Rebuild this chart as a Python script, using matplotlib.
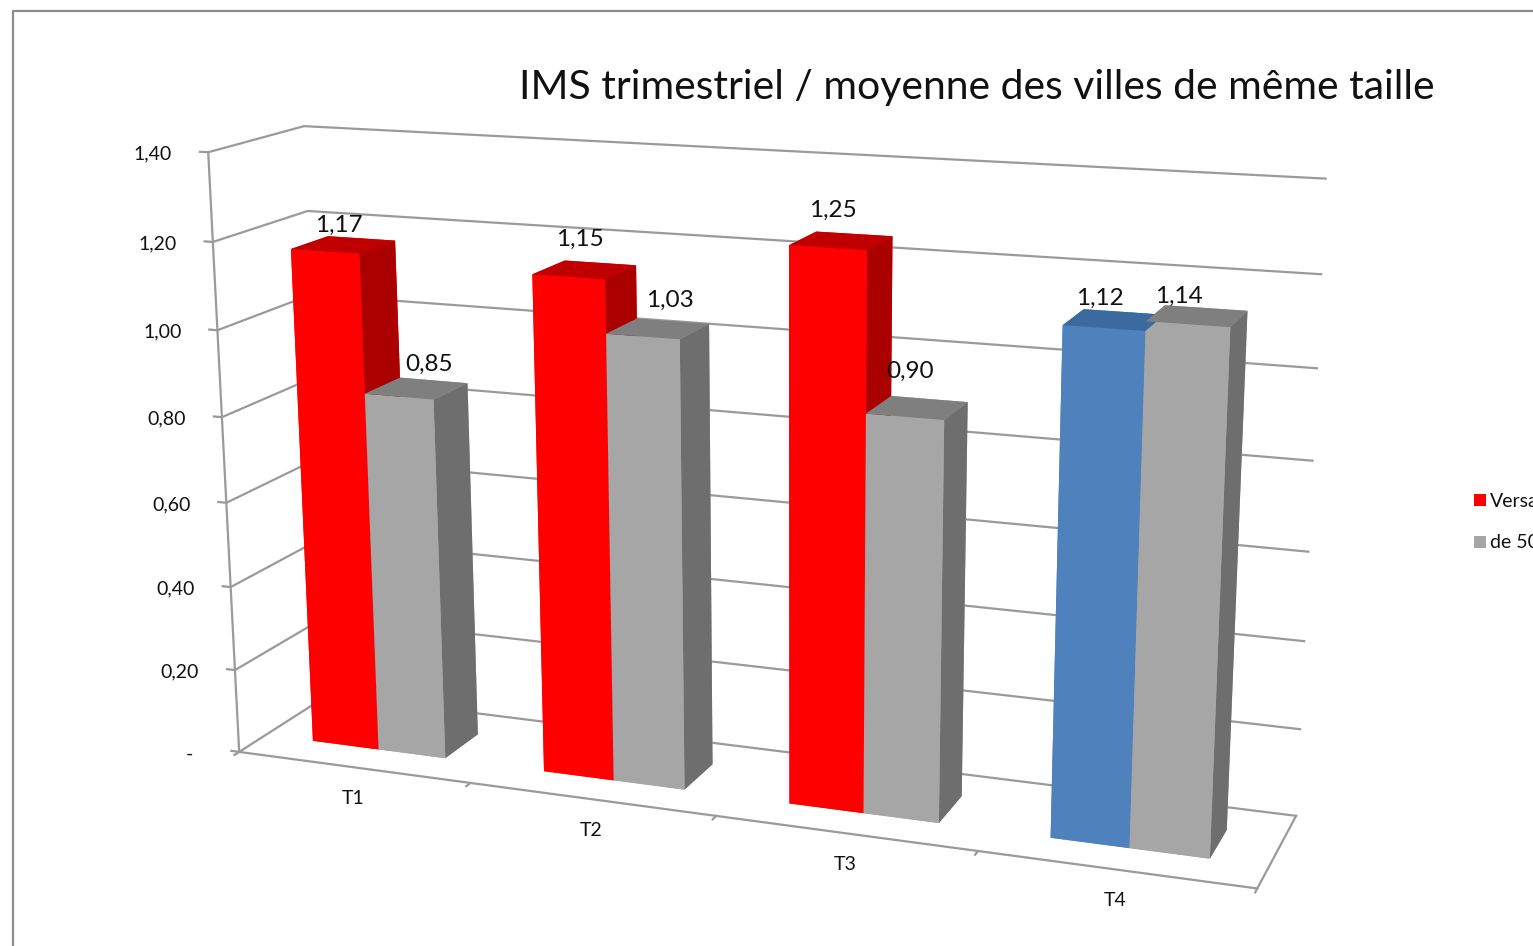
import numpy as np
import matplotlib
matplotlib.use('Agg')
import matplotlib.pyplot as plt
from matplotlib.lines import Line2D
from matplotlib.patches import Rectangle
from mpl_toolkits.mplot3d import proj3d

plt.rcParams['font.family'] = ['Lato', 'DejaVu Sans']

title = 'IMS trimestriel / moyenne des villes de même taille'
categories = ['T1', 'T2', 'T3', 'T4']
versailles = [1.17, 1.15, 1.25, 1.12]
villes = [0.85, 1.03, 0.90, 1.14]
series_names = ['Versailles', 'de 50 000 à 100 000 hab']
yticks = [0, 0.2, 0.4, 0.6, 0.8, 1.0, 1.2, 1.4]
ytick_labels = ['-', '0,20', '0,40', '0,60', '0,80', '1,00', '1,20', '1,40']
label_versailles = ['1,17', '1,15', '1,25', '1,12']
label_villes = ['0,85', '1,03', '0,90', '1,14']

W, H = 1533, 946
GRID = '#9a9a9a'
INK = '#111111'
bar_w = 0.29
bar_start = 0.21
depth0, depth1 = 0.29, 0.69
# shift in pixels of the value labels, Excel puts them a bit anywhere
shift_versailles = [(-23, 13), (-20, 24), (-21, 24), (-24, 14)]
shift_villes = [(-5, 16), (-3, 21), (-19, 28), (-27, 12)]

# face colours in bar3d order: bottom, top, front, back, left, right
RED = ['#ff0000', '#c00000', '#ff0000', '#ff0000', '#ff0000', '#aa0000']
BLUE = ['#4f81bd', '#3b6a9f', '#4f81bd', '#4f81bd', '#4f81bd', '#3b6a9f']
GREY = ['#a6a6a6', '#7f7f7f', '#a6a6a6', '#a6a6a6', '#a6a6a6', '#6e6e6e']

fig = plt.figure(figsize=(W/100, H/100), dpi=100)
# outer frame of the chart, only left and top are in the picture
fig.add_artist(Line2D([13/W, 13/W, 1], [0, 1 - 11/H, 1 - 11/H], color='#8c8c8c', lw=1.6))

# camera values fitted on the corners of the box
ax = fig.add_axes([114.29/W, -171.91/H, 1237.32/W, 1237.32/H], projection='3d')
ax.computed_zorder = False
ax.set_axis_off()
ax.patch.set_alpha(0)
ax.set_proj_type('persp', focal_length=0.4412)
ax.view_init(14.9007, -69.3601, 0.2487)
ax.set_box_aspect((1.6984, 0.3087, 1))

# grid on the walls
for z in yticks:
    ax.plot([-0.035, 0, 0, 4], [0, 0, 1, 1], [z, z, z, z], color=GRID, lw=1.6, zorder=1)
ax.plot([0, 0], [0, 0], [0, 1.4], color=GRID, lw=1.6, zorder=1)
ax.plot([0, 4, 4], [0, 0, 1], [0, 0, 0], color=GRID, lw=1.6, zorder=1)
for i in range(5):
    ax.plot([i, i], [0, -0.05], [0, 0], color=GRID, lw=1.6, zorder=1)

# bars
xs, ds, colors = [], [], []
for i in range(len(categories)):
    xs += [i + bar_start, i + bar_start + bar_w]
    ds += [versailles[i], villes[i]]
    colors += (BLUE if i == 3 else RED) + GREY
n = len(xs)
ax.bar3d(xs, [depth0]*n, [0]*n, [bar_w]*n, [depth1-depth0]*n, ds, color=colors,
         shade=False, zorder=2, linewidth=0)

ax.set_xlim(0, 4, view_margin=0)
ax.set_ylim(0, 1, view_margin=0)
ax.set_zlim(0, 1.4, view_margin=0)
ax.set_xticks([]); ax.set_yticks([]); ax.set_zticks([])


def label(x, y, z, s, dx=0, dy=0, **kw):
    # text placed at a point of the box, with a shift in pixels
    M = ax.get_proj()
    px, py, _ = proj3d.proj_transform(x, y, z, M)
    ax.annotate(s, (px, py), xytext=(dx, dy), textcoords='offset pixels', color=INK,
                annotation_clip=False, zorder=5, **kw)


for z, s in zip(yticks, ytick_labels):
    label(0, 0, z, s, -46 if s == '-' else -36, -2, ha='right', va='center', fontsize=14)
for i, s in enumerate(categories):
    label(i + 0.5, 0, 0, s, 0, -31, ha='center', va='center', fontsize=14)
for i in range(len(categories)):
    xm = i + bar_start + bar_w/2
    label(xm, depth1, versailles[i], label_versailles[i], *shift_versailles[i],
          ha='center', va='center', fontsize=17.5)
    label(xm + bar_w, depth1, villes[i], label_villes[i], *shift_villes[i],
          ha='center', va='center', fontsize=17.5)

fig.text(977/W, 1 - 87/H, title, ha='center', va='center', fontsize=29.4, color=INK)

# legend, runs out of the picture on the right as in the original
for yp, c, s in zip([500, 542], ['#ff0000', '#a6a6a6'], series_names):
    fig.add_artist(Rectangle((1474/W, 1 - (yp+6)/H), 12/W, 12/H, transform=fig.transFigure,
                             facecolor=c, edgecolor='none'))
    fig.text(1490/W, 1 - (yp+1)/H, s, ha='left', va='center', fontsize=14, color=INK)

fig.savefig('out.png', dpi=100)
